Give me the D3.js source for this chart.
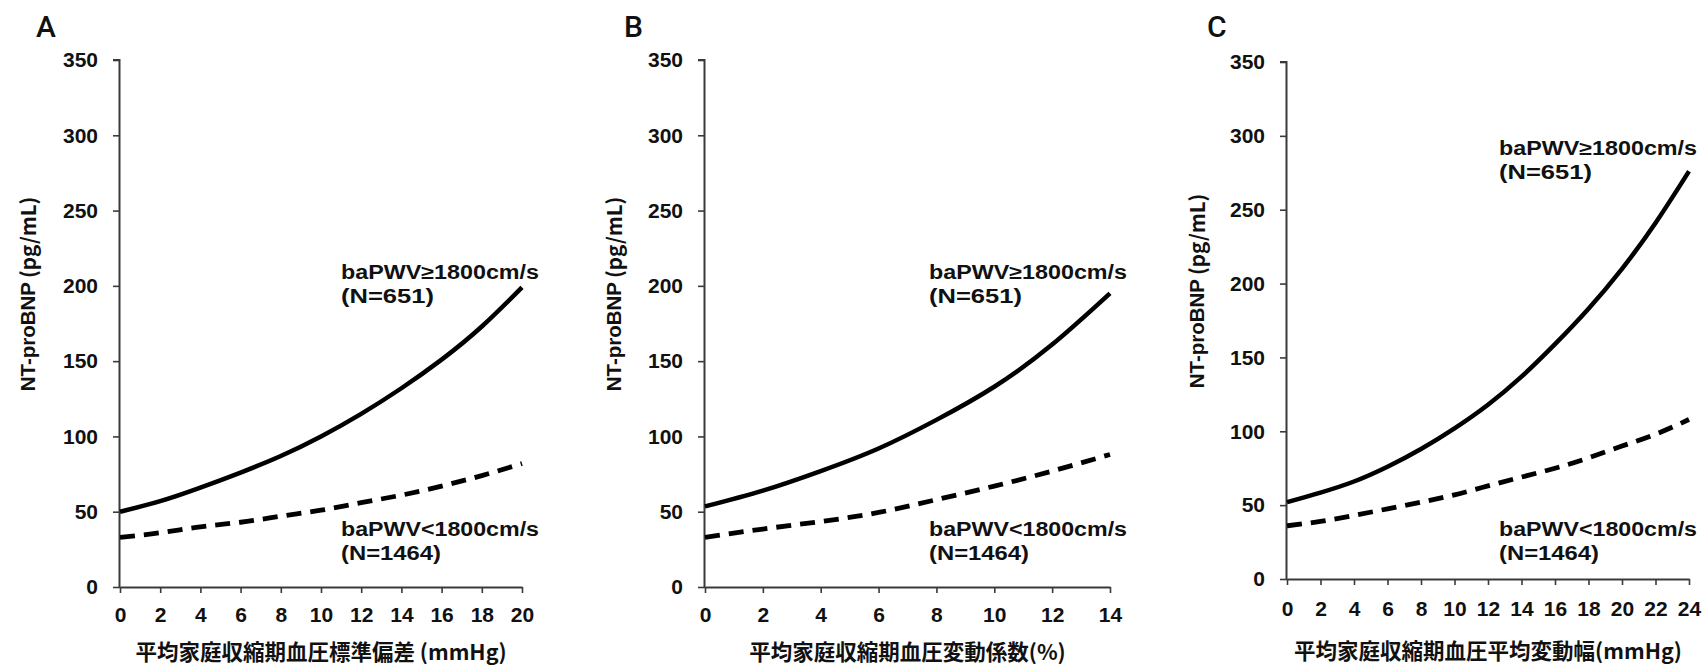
<!DOCTYPE html>
<html>
<head>
<meta charset="utf-8">
<script src="https://cdn.jsdelivr.net/npm/d3@7"></script>
<style>
  body { margin: 0; background: #fff; }
  svg { display: block; }
</style>
</head>
<body>
<div id="container"></div>
<script>
/* CONSTANTS AND GLOBALS */
const width = 1706, height = 665;

// data
const yTicks = [0, 50, 100, 150, 200, 250, 300, 350];

const xA = [0, 2, 4, 6, 8, 10, 12, 14, 16, 18, 20];
const highA = [50, 57, 66, 76, 87, 100, 115, 132, 151, 173, 199];
const lowA = [33, 36, 40, 43, 47, 51, 56, 61, 67, 74, 82];

const xB = [0, 2, 4, 6, 8, 10, 12, 14];
const highB = [53.5, 64, 77, 92, 111, 133, 161, 195];
const lowB = [33, 38.5, 43.5, 49.5, 58, 67, 77, 88];

const xC = [0, 2, 4, 6, 8, 10, 12, 14, 16, 18, 20, 22, 24];
const highC = [52, 58.5, 66, 76, 88, 102, 118, 137, 159, 183, 210, 241, 276];
const lowC = [36, 39, 43, 47.5, 52, 57, 63, 69, 75, 82, 90, 98, 108];

const titles = ["A", "B", "C"];
const xLabels = [
  "平均家庭収縮期血圧標準偏差 (mmHg)",
  "平均家庭収縮期血圧変動係数(%)",
  "平均家庭収縮期血圧平均変動幅(mmHg)"
];
const highLabel = ["baPWV≥1800cm/s", "(N=651)"];
const lowLabel = ["baPWV<1800cm/s", "(N=1464)"];

// panel layout (pixels)
const panels = [
  { letter: titles[0], x: xA, hi: highA, lo: lowA, xmax: 20, left: 120, right: 522, top: 60, bottom: 587,
    letterX: 36, yTitleX: 27, yTitleY: 294, pad: 14, hiLab: [341, 272], loLab: [341, 529], xTitleY: 650 },
  { letter: titles[1], x: xB, hi: highB, lo: lowB, xmax: 14, left: 705, right: 1110, top: 60, bottom: 587,
    letterX: 624, yTitleX: 613, yTitleY: 294, pad: 14, hiLab: [929, 272], loLab: [929, 529], xTitleY: 650 },
  { letter: titles[2], x: xC, hi: highC, lo: lowC, xmax: 24, left: 1287, right: 1689, top: 62, bottom: 579,
    letterX: 1207, yTitleX: 1196, yTitleY: 291, pad: 16, hiLab: [1499, 148], loLab: [1499, 529], xTitleY: 649 }
];
panels.forEach((p, i) => p.xLabel = xLabels[i]);

// widths of the series label lines in the picture
const labelWidths = { "baPWV≥1800cm/s": 198, "baPWV<1800cm/s": 198, "(N=651)": 93, "(N=1464)": 100 };

const latin = "'Liberation Sans', Arial, sans-serif";
const cjk = "'Noto Sans CJK JP', 'Noto Sans', sans-serif";

const svg = d3.select("#container").append("svg")
  .attr("width", width)
  .attr("height", height);

panels.forEach(p => {
  const xScale = d3.scaleLinear().domain([0, p.xmax]).range([p.left, p.right]);
  const yScale = d3.scaleLinear().domain([0, 350]).range([p.bottom, p.top]);

  const g = svg.append("g");

  // axes
  const yAxis = g.append("g")
    .attr("transform", `translate(${p.left},0)`)
    .call(d3.axisLeft(yScale).tickValues(yTicks).tickSize(7).tickPadding(15));
  const xAxis = g.append("g")
    .attr("transform", `translate(0,${p.bottom})`)
    .call(d3.axisBottom(xScale).tickValues(d3.range(0, p.xmax + 1, 2)).tickSize(6).tickPadding(p.pad).tickSizeOuter(0));

  [yAxis, xAxis].forEach(ax => {
    ax.select(".domain").attr("stroke", "#3a3a3a").attr("stroke-width", 2);
    ax.selectAll(".tick line").attr("stroke", "#3a3a3a").attr("stroke-width", 1.6);
    ax.selectAll(".tick text")
      .attr("font-family", latin)
      .attr("font-weight", "bold")
      .attr("font-size", "21px")
      .attr("fill", "#111");
  });
  yAxis.select(".domain").attr("d", `M-0.5,${p.bottom}V${p.top}H-7`);

  // curves
  const line = d3.line()
    .x(d => xScale(d[0]))
    .y(d => yScale(d[1]))
    .curve(d3.curveNatural);

  g.append("path")
    .datum(d3.zip(p.x, p.lo))
    .attr("d", line)
    .attr("fill", "none")
    .attr("stroke", "#000")
    .attr("stroke-width", 4.8)
    .attr("stroke-dasharray", "15,9");

  g.append("path")
    .datum(d3.zip(p.x, p.hi))
    .attr("d", line)
    .attr("fill", "none")
    .attr("stroke", "#000")
    .attr("stroke-width", 4.5);

  // panel letter
  g.append("text")
    .attr("x", p.letterX)
    .attr("y", 37)
    .attr("font-family", "Roboto, 'Liberation Sans', sans-serif")
    .attr("font-weight", 500)
    .attr("font-size", "30px")
    .attr("fill", "#111")
    .text(p.letter);

  // y title
  const yt = g.append("text")
    .attr("transform", `translate(${p.yTitleX},${p.yTitleY}) rotate(-90)`)
    .attr("text-anchor", "middle")
    .attr("dominant-baseline", "central")
    .attr("font-weight", "bold")
    .attr("font-size", "20.5px")
    .attr("fill", "#111");
  yt.append("tspan").attr("font-family", latin).text("NT-proBNP");
  yt.append("tspan").attr("font-family", cjk).attr("dx", 4).text("(pg/mL)");

  // x title
  g.append("text")
    .attr("x", (p.left + p.right) / 2)
    .attr("y", p.xTitleY)
    .attr("text-anchor", "middle")
    .attr("dominant-baseline", "central")
    .attr("font-family", cjk)
    .attr("font-weight", "bold")
    .attr("font-size", "21.5px")
    .attr("fill", "#111")
    .text(p.xLabel);

  // series labels
  [[p.hiLab, highLabel], [p.loLab, lowLabel]].forEach(([pos, lines]) => {
    lines.forEach((t, i) => {
      g.append("text")
        .attr("x", pos[0])
        .attr("y", pos[1] + i * 24)
        .attr("dominant-baseline", "central")
        .attr("font-family", latin)
        .attr("font-weight", "bold")
        .attr("font-size", "19.5px")
        .attr("textLength", labelWidths[t])
        .attr("lengthAdjust", "spacingAndGlyphs")
        .attr("fill", "#111")
        .text(t);
    });
  });
});
</script>
</body>
</html>
